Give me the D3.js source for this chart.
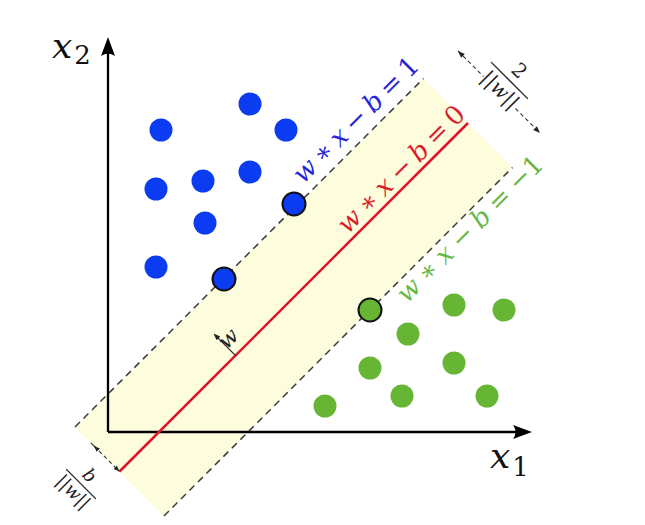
<!DOCTYPE html>
<html><head><meta charset="utf-8">
<script src="https://cdn.jsdelivr.net/npm/d3@7"></script>
<style>body{margin:0;background:#fff}svg{display:block}svg text{font-family:"DejaVu Serif","Liberation Serif",serif !important}</style>
</head><body><svg id="c" width="645" height="525"></svg>
<script>
// data (in diagram units; origin at the axes corner)
const blueX = [53,142,178,48,95,142,97,48];
const blueY = [302,328,302,243,251,260,209,165];
const blueSVX = [186,116];
const blueSVY = [228,153];
const greenX = [346,396,300,262,346,217,294,379];
const greenY = [127,122,98,64,69,26,36,36];
const greenSVX = [262];
const greenSVY = [122];
// lines y = x + c
const lineOffsets = [38,-51,-140];       // w*x-b = 1, 0, -1
const lineLabels = ["1","0","\u22121"];
const bandRange = [-28,669];             // along-line extent (s = x + y)

const svg = d3.select("#c");
const x = d3.scaleLinear().domain([0,424]).range([108,532]);
const y = d3.scaleLinear().domain([0,395]).range([432,37]);
const P = (s,c)=>[x((s-c)/2), y((s+c)/2)];

const band = [P(bandRange[0],lineOffsets[0]),P(bandRange[1],lineOffsets[0]),P(bandRange[1],lineOffsets[2]),P(bandRange[0],lineOffsets[2])];
svg.append("path").attr("d","M"+band.join("L")+"Z").attr("fill","#fdfcdc");

const ax = svg.append("g").attr("stroke","#000").attr("stroke-width",2.3).attr("fill","none");
ax.append("line").attr("x1",x(0)).attr("y1",y(0)).attr("x2",x(0)).attr("y2",y(380));
ax.append("line").attr("x1",x(0)).attr("y1",y(0)).attr("x2",x(410)).attr("y2",y(0));
const tipY=[x(0),y(395)], tipX=[x(424),y(0)];
svg.append("path").attr("d",`M${tipY[0]},${tipY[1]} L${tipY[0]+7},${tipY[1]+19} Q${tipY[0]},${tipY[1]+14} ${tipY[0]-7},${tipY[1]+19} Z`).attr("fill","#000");
svg.append("path").attr("d",`M${tipX[0]},${tipX[1]} L${tipX[0]-19},${tipX[1]-7} Q${tipX[0]-14},${tipX[1]} ${tipX[0]-19},${tipX[1]+7} Z`).attr("fill","#000");

[lineOffsets[0],lineOffsets[2]].forEach(c=>{
  const a=P(bandRange[0],c), b=P(bandRange[1],c);
  svg.append("line").attr("x1",a[0]).attr("y1",a[1]).attr("x2",b[0]).attr("y2",b[1])
    .attr("stroke","#3a3a3a").attr("stroke-width",1.5).attr("stroke-dasharray","7,5");
});
{const a=P(bandRange[0],lineOffsets[1]), b=P(bandRange[1],lineOffsets[1]);
 svg.append("line").attr("x1",a[0]).attr("y1",a[1]).attr("x2",b[0]).attr("y2",b[1])
   .attr("stroke","#e0142c").attr("stroke-width",2.5);}

const labColors=["#2626d6","#d81e2e","#6ab844"];
const labS=[560,556,565];
const labOff=[10,6,-22];
const labLen=[166,168,195];
lineOffsets.forEach((c,i)=>{
  const p=P(labS[i],c);
  const px=p[0]-labOff[i]*0.7071, py=p[1]-labOff[i]*0.7071;
  const t=svg.append("text").attr("transform",`translate(${px},${py}) rotate(-45)`)
    .attr("text-anchor","middle").attr("font-size",26).attr("fill",labColors[i])
    .attr("textLength",labLen[i]).attr("lengthAdjust","spacing").style("white-space","pre");
  t.append("tspan").attr("font-style","italic").text("w");
  t.append("tspan").text(" \u2217 ");
  t.append("tspan").attr("font-style","italic").text("x");
  t.append("tspan").text(" \u2212 ");
  t.append("tspan").attr("font-style","italic").text("b");
  t.append("tspan").text(" = "+lineLabels[i]);
});

{const a=P(204,lineOffsets[1]), b=P(204,lineOffsets[1]+44);
 svg.append("line").attr("x1",a[0]).attr("y1",a[1]).attr("x2",b[0]+3).attr("y2",b[1]+3).attr("stroke","#333").attr("stroke-width",1.1);
 svg.append("path").attr("transform",`translate(${b[0]},${b[1]}) rotate(-135)`).attr("d","M0,0 L-7,-2.6 L-7,2.6 Z").attr("fill","#222");
 const m=P(214,lineOffsets[1]+14);
 svg.append("text").attr("transform",`translate(${m[0]},${m[1]}) rotate(-45)`).attr("text-anchor","middle")
   .attr("font-size",22).attr("font-style","italic").attr("fill","#222").text("w");
}

{const s=731;
 const segs=[[31,-20],[-84,-133]];
 segs.forEach(([c1,c2])=>{const a=P(s,c1),b=P(s,c2);
   svg.append("line").attr("x1",a[0]).attr("y1",a[1]).attr("x2",b[0]).attr("y2",b[1]).attr("stroke","#333").attr("stroke-width",1.1).attr("stroke-dasharray","4,3");});
 const a=P(s,31), b=P(s,-133);
 svg.append("path").attr("transform",`translate(${a[0]},${a[1]}) rotate(-135)`).attr("d","M0,0 L-7,-2.6 L-7,2.6 Z").attr("fill","#222");
 svg.append("path").attr("transform",`translate(${b[0]},${b[1]}) rotate(45)`).attr("d","M0,0 L-7,-2.6 L-7,2.6 Z").attr("fill","#222");
 const m=P(753,-50);
 const g=svg.append("g").attr("transform",`translate(${m[0]},${m[1]}) rotate(45)`);
 g.append("line").attr("x1",-26).attr("x2",26).attr("stroke","#222").attr("stroke-width",1.3);
 g.append("text").attr("y",-7).attr("text-anchor","middle").attr("font-size",20).attr("fill","#222").text("2");
 const d=g.append("text").attr("y",20).attr("text-anchor","middle").attr("font-size",20).attr("fill","#222");
 d.append("tspan").text("||"); d.append("tspan").attr("font-style","italic").text("w"); d.append("tspan").text("||");
}
{const s=bandRange[0];
 const a=P(s,0), b=P(s,lineOffsets[1]);
 svg.append("line").attr("x1",a[0]).attr("y1",a[1]).attr("x2",b[0]).attr("y2",b[1]).attr("stroke","#333").attr("stroke-width",1.1).attr("stroke-dasharray","4,3");
 svg.append("path").attr("transform",`translate(${a[0]},${a[1]}) rotate(-45)`).attr("d","M0,-4.5 L0,4.5").attr("stroke","#333").attr("stroke-width",1.1);
 svg.append("path").attr("transform",`translate(${a[0]},${a[1]}) rotate(-135)`).attr("d","M0,0 L-6,-2.3 L-6,2.3 Z").attr("fill","#222");
 svg.append("path").attr("transform",`translate(${b[0]},${b[1]}) rotate(45)`).attr("d","M0,0 L-6,-2.3 L-6,2.3 Z").attr("fill","#222");
 const m=P(-79,-25);
 const g=svg.append("g").attr("transform",`translate(${m[0]},${m[1]}) rotate(45)`);
 g.append("line").attr("x1",-21).attr("x2",21).attr("stroke","#222").attr("stroke-width",1.3);
 g.append("text").attr("y",-6).attr("text-anchor","middle").attr("font-size",18).attr("font-style","italic").attr("fill","#222").text("b");
 const d=g.append("text").attr("y",17).attr("text-anchor","middle").attr("font-size",18).attr("fill","#222");
 d.append("tspan").text("||"); d.append("tspan").attr("font-style","italic").text("w"); d.append("tspan").text("||");
}

const pts=(xs,ys,col,sv)=>svg.append("g").selectAll("circle").data(xs.map((v,i)=>[v,ys[i]])).join("circle")
  .attr("cx",d=>x(d[0])).attr("cy",d=>y(d[1])).attr("r",11.5).attr("fill",col)
  .attr("stroke",sv?"#111":"none").attr("stroke-width",sv?2:0);
pts(blueX,blueY,"#0b3cf2",false);
pts(greenX,greenY,"#67b534",false);
pts(blueSVX,blueSVY,"#0b3cf2",true);
pts(greenSVX,greenSVY,"#67b534",true);

{const t=svg.append("text").attr("x",52).attr("y",58).attr("fill","#111");
 t.append("tspan").attr("font-style","italic").attr("font-size",36).text("x");
 t.append("tspan").attr("font-size",26).attr("dy",6).attr("dx",2).text("2");
 const u=svg.append("text").attr("x",490).attr("y",468).attr("fill","#111");
 u.append("tspan").attr("font-style","italic").attr("font-size",36).text("x");
 u.append("tspan").attr("font-size",26).attr("dy",8).attr("dx",2).text("1");
}
</script></body></html>
